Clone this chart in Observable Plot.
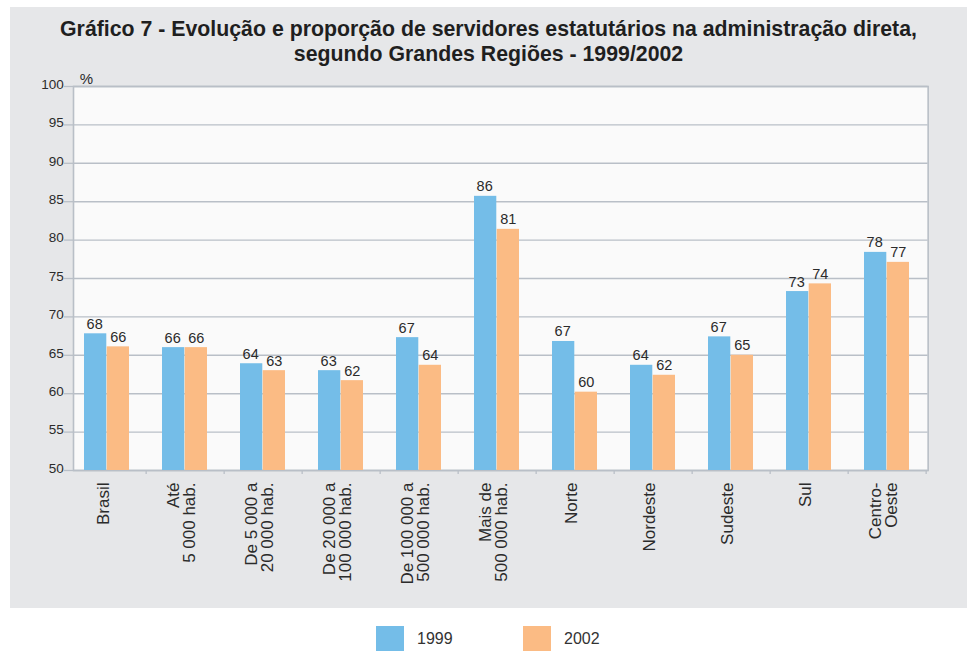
<!DOCTYPE html>
<html>
<head>
<meta charset="utf-8">
<script src="https://cdn.jsdelivr.net/npm/d3@7"></script>
<script src="https://cdn.jsdelivr.net/npm/@observablehq/plot@0.6"></script>
<style>
  html, body { margin: 0; padding: 0; background: #ffffff; width: 967px; height: 651px; overflow: hidden; }
  #panel { position: absolute; left: 10px; top: 7px; width: 957px; height: 601px; background: #e6e7e9; }
  #title { position: absolute; left: 0; top: 10.4px; width: 957px; text-align: center;
           font-family: "Liberation Sans", Arial, sans-serif; font-weight: bold; font-size: 21.3px;
           line-height: 25px; color: #1f1f1f; }
  #chart { position: absolute; left: 0; top: 0; }
  #legend { position: absolute; top: 626px; left: 376px; height: 28px;
            font-family: "Liberation Sans", Arial, sans-serif; font-size: 16px; color: #333; }
  .sw { position: absolute; top: 0; width: 28px; height: 28px; }
  .lb { position: absolute; top: 5px; line-height: 16px; }
</style>
</head>
<body>
<div id="panel">
  <div id="chart"></div>
  <div id="title">Gráfico 7 - Evolução e proporção de servidores estatutários na administração direta,<br>segundo Grandes Regiões - 1999/2002</div>
</div>
<div id="legend"></div>
<script>
const categories = ["Brasil", "Até\n5 000 hab.", "De 5 000 a\n20 000 hab.", "De 20 000 a\n100 000 hab.",
  "De 100 000 a\n500 000 hab.", "Mais de\n500 000 hab.", "Norte", "Nordeste", "Sudeste", "Sul", "Centro-\nOeste"];
const values1999 = [67.8, 66.0, 63.9, 63.0, 67.3, 85.7, 66.8, 63.7, 67.4, 73.3, 78.4];
const values2002 = [66.1, 66.0, 63.0, 61.7, 63.7, 81.4, 60.2, 62.4, 65.0, 74.3, 77.1];
const labels1999 = ["68", "66", "64", "63", "67", "86", "67", "64", "67", "73", "78"];
const labels2002 = ["66", "66", "63", "62", "64", "81", "60", "62", "65", "74", "77"];
const yTicks = [50, 55, 60, 65, 70, 75, 80, 85, 90, 95, 100];
const seriesNames = ["1999", "2002"];
const colors = ["#74bde8", "#fbbb84"];

const data = categories.map((c, i) => ({cat: c, v1999: values1999[i], v2002: values2002[i], l1999: labels1999[i], l2002: labels2002[i]}));

const W = 957, H = 601;
const mL = 56.35, mR = 39.35, mT = 79, mB = 138;
const pIn = 0.42, pOut = 0.21;
const step = (W - mL - mR) / categories.length;
const bw = step * (1 - pIn);
const half = bw / 2;
const frameInset = 6.65;
const grid = "#b9bfc7";
const font = "'Liberation Sans', Arial, sans-serif";

const chart = Plot.plot({
  width: W, height: H,
  marginLeft: mL, marginRight: mR, marginTop: mT, marginBottom: mB,
  style: {background: "transparent", fontFamily: font, overflow: "visible"},
  x: {type: "band", domain: categories, paddingInner: pIn, paddingOuter: pOut, axis: null},
  y: {domain: [50, 100], axis: null},
  marks: [
    Plot.frame({fill: "#fafafa", insetLeft: frameInset}),
    Plot.ruleY(yTicks, {y: d => d, stroke: grid, strokeWidth: 1.4, insetLeft: frameInset}),
    Plot.frame({stroke: grid, strokeWidth: 1.6, insetLeft: frameInset}),
    Plot.axisY({ticks: yTicks, tickSize: 9, dx: frameInset, tickFormat: () => "", label: null, stroke: grid, strokeWidth: 1.3}),
    Plot.text(yTicks, {y: d => d, text: d => String(d), frameAnchor: "left", textAnchor: "end", dx: -3, dy: -2, fontSize: 13.5, fill: "#2b2b2b"}),
    Plot.axisX({ticks: categories, tickSize: 4, tickFormat: () => "", label: null, dx: step / 2, stroke: grid, strokeWidth: 1.3}),
    Plot.barY(data, {x: "cat", y1: 50, y2: "v1999", fill: colors[0], insetRight: half}),
    Plot.barY(data, {x: "cat", y1: 50, y2: "v2002", fill: colors[1], insetLeft: half}),
    Plot.text(data, {x: "cat", y: "v1999", text: "l1999", dx: -bw / 4 - 1, dy: -5, lineAnchor: "bottom", fontSize: 14.5, fill: "#2b2b2b"}),
    Plot.text(data, {x: "cat", y: "v2002", text: "l2002", dx: bw / 4, dy: -5, lineAnchor: "bottom", fontSize: 14.5, fill: "#2b2b2b"}),
    Plot.text(categories, {x: d => d, text: d => d, frameAnchor: "bottom", rotate: -90, textAnchor: "end", lineAnchor: "middle", dy: 12, dx: -3.5, fontSize: 17, lineHeight: 0.95, fill: "#2b2b2b"}),
    Plot.text(["%"], {text: d => d, frameAnchor: "top-left", dx: 13, dy: -3, lineAnchor: "bottom", textAnchor: "start", fontSize: 15, fill: "#2b2b2b"})
  ]
});
document.getElementById("chart").appendChild(chart);

const legend = document.getElementById("legend");
const offsets = [0, 147];
seriesNames.forEach((name, i) => {
  const sw = document.createElement("div");
  sw.className = "sw";
  sw.style.left = offsets[i] + "px";
  sw.style.background = colors[i];
  legend.appendChild(sw);
  const lb = document.createElement("div");
  lb.className = "lb";
  lb.style.left = (offsets[i] + 41) + "px";
  lb.textContent = name;
  legend.appendChild(lb);
});
</script>
</body>
</html>
